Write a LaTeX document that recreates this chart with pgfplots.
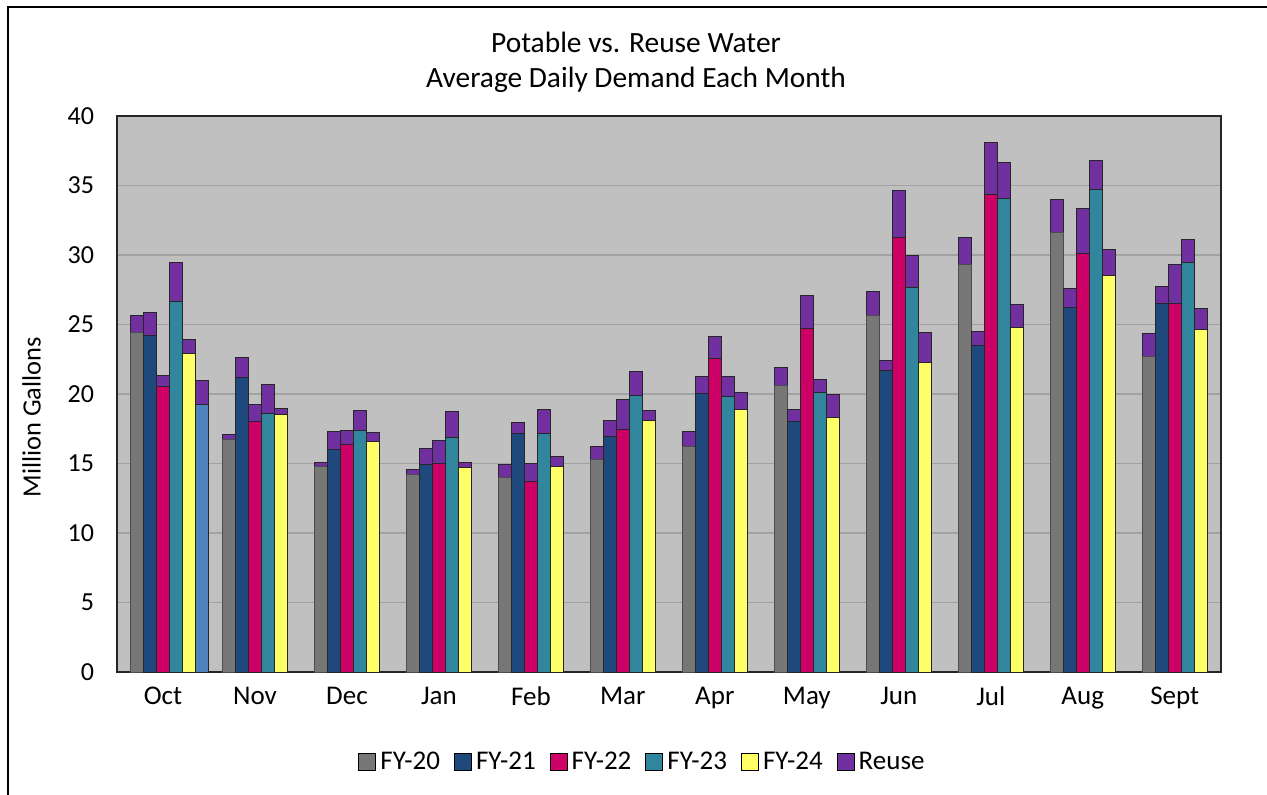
\documentclass[border=0pt]{standalone}
\usepackage{pgfplots}
\pgfplotsset{compat=1.18}
\usepackage{pgfplotstable}
\usepackage{fontspec}
\setmainfont{Carlito}

\definecolor{cA}{HTML}{777777}
\definecolor{cB}{HTML}{1F497D}
\definecolor{cC}{HTML}{CC0066}
\definecolor{cD}{HTML}{31859C}
\definecolor{cE}{HTML}{FFFF66}
\definecolor{cF}{HTML}{4F81BD}
\definecolor{reuse}{HTML}{7030A0}
\definecolor{bgray}{HTML}{C0C0C0}
\definecolor{ggray}{HTML}{A2A2A2}

% x = month index (0 = Oct ... 11 = Sept), p = potable, r = reuse
\pgfplotstableread{
x p r
0 24.44 1.24
1 16.74 0.36
2 14.75 0.31
3 14.24 0.32
4 14.00 0.94
5 15.27 0.97
6 16.19 1.13
7 20.58 1.34
8 25.65 1.71
9 29.29 1.99
10 31.65 2.35
11 22.72 1.63
}\fyA
\pgfplotstableread{
x p r
0 24.20 1.68
1 21.22 1.42
2 16.02 1.30
3 14.94 1.13
4 17.15 0.79
5 16.91 1.19
6 20.07 1.18
7 17.99 0.91
8 21.70 0.71
9 23.51 0.99
10 26.23 1.36
11 26.52 1.20
}\fyB
\pgfplotstableread{
x p r
0 20.55 0.77
1 18.03 1.23
2 16.38 1.01
3 14.99 1.65
4 13.67 1.32
5 17.48 2.11
6 22.52 1.60
7 24.72 2.40
8 31.23 3.43
9 34.37 3.72
10 30.13 3.25
11 26.54 2.78
}\fyC
\pgfplotstableread{
x p r
0 26.67 2.78
1 18.61 2.04
2 17.41 1.37
3 16.86 1.87
4 17.15 1.75
5 19.88 1.75
6 19.83 1.44
7 20.10 0.96
8 27.64 2.33
9 34.03 2.62
10 34.74 2.09
11 29.45 1.70
}\fyD
\pgfplotstableread{
x p r
0 22.90 1.03
1 18.51 0.46
2 16.57 0.65
3 14.70 0.34
4 14.80 0.69
5 18.10 0.73
6 18.90 1.20
7 18.32 1.66
8 22.30 2.10
9 24.79 1.65
10 28.53 1.89
11 24.63 1.52
}\fyE
\pgfplotstableread{
x p r
0 19.26 1.68
}\fyF

\pgfplotsset{
  barsty/.style={ybar, bar width=0.142, bar shift=0pt, draw=black!85, line width=0.5pt, forget plot},
}

\begin{document}
\begin{tikzpicture}
\useasboundingbox (0,0) rectangle (633.5pt,397pt);
\draw[line width=1pt, black] (3.75pt,-2pt) -- (3.75pt,393.4pt) -- (640pt,393.4pt);
\begin{axis}[
  at={(58.5pt,61pt)}, anchor=south west,
  scale only axis, width=551.85pt, height=278pt,
  xmin=-0.5, xmax=11.5, ymin=0, ymax=40,
  xtick={0,...,11},
  xticklabels={Oct,Nov,Dec,Jan,Feb,Mar,Apr,May,Jun,Jul,Aug,Sept},
  ytick={0,5,...,40},
  major tick length=0pt,
  ymajorgrids, grid style={color=ggray, line width=0.8pt},
  axis background/.style={fill=bgray},
  axis line style={black!85, line width=0.8pt},
  /pgf/number format/assume math mode=true,
  yticklabel style={font=\fontsize{13}{15}\selectfont, text=black, xshift=-8pt},
  xticklabel style={font=\fontsize{13.5}{15}\selectfont, text=black, yshift=-4pt},
  ylabel={Million Gallons},
  ylabel style={at={(axis description cs:-0.0775,0.458)}, anchor=center, font=\fontsize{13.2}{15}\selectfont},
  legend columns=6,
  legend style={at={(0.477,-0.162)}, anchor=center, draw=none, fill=none,
    font=\fontsize{13.5}{15}\selectfont,
    /tikz/every even column/.append style={column sep=5pt},
    /tikz/every odd column/.append style={column sep=0pt}},
  legend image code/.code={\draw[#1,draw=black,line width=0.5pt] (0pt,-4.25pt) rectangle (8.5pt,4.25pt);},
]
% FY-20
\addplot[barsty, fill=reuse] table[x expr=\thisrow{x}-0.284, y expr=\thisrow{p}+\thisrow{r}] \fyA;
\addplot[barsty, fill=cA, draw=black!70] table[x expr=\thisrow{x}-0.284, y=p] \fyA;
% FY-21
\addplot[barsty, fill=reuse] table[x expr=\thisrow{x}-0.142, y expr=\thisrow{p}+\thisrow{r}] \fyB;
\addplot[barsty, fill=cB] table[x expr=\thisrow{x}-0.142, y=p] \fyB;
% FY-22
\addplot[barsty, fill=reuse] table[x expr=\thisrow{x}, y expr=\thisrow{p}+\thisrow{r}] \fyC;
\addplot[barsty, fill=cC] table[x expr=\thisrow{x}, y=p] \fyC;
% FY-23
\addplot[barsty, fill=reuse] table[x expr=\thisrow{x}+0.142, y expr=\thisrow{p}+\thisrow{r}] \fyD;
\addplot[barsty, fill=cD] table[x expr=\thisrow{x}+0.142, y=p] \fyD;
% FY-24
\addplot[barsty, fill=reuse] table[x expr=\thisrow{x}+0.284, y expr=\thisrow{p}+\thisrow{r}] \fyE;
\addplot[barsty, fill=cE] table[x expr=\thisrow{x}+0.284, y=p] \fyE;
% extra (Oct only)
\addplot[barsty, fill=reuse] table[x expr=\thisrow{x}+0.426, y expr=\thisrow{p}+\thisrow{r}] \fyF;
\addplot[barsty, fill=cF] table[x expr=\thisrow{x}+0.426, y=p] \fyF;

\addlegendimage{fill=cA}\addlegendentry{FY-20}
\addlegendimage{fill=cB}\addlegendentry{FY-21}
\addlegendimage{fill=cC}\addlegendentry{FY-22}
\addlegendimage{fill=cD}\addlegendentry{FY-23}
\addlegendimage{fill=cE}\addlegendentry{FY-24}
\addlegendimage{fill=reuse}\addlegendentry{Reuse}
\end{axis}
\node[font=\fontsize{14.7}{17}\selectfont, anchor=base] at (318pt,370.5pt) {Potable vs. Reuse Water};
\node[font=\fontsize{14.7}{17}\selectfont, anchor=base] at (318pt,353pt) {Average Daily Demand Each Month};
\end{tikzpicture}
\end{document}
